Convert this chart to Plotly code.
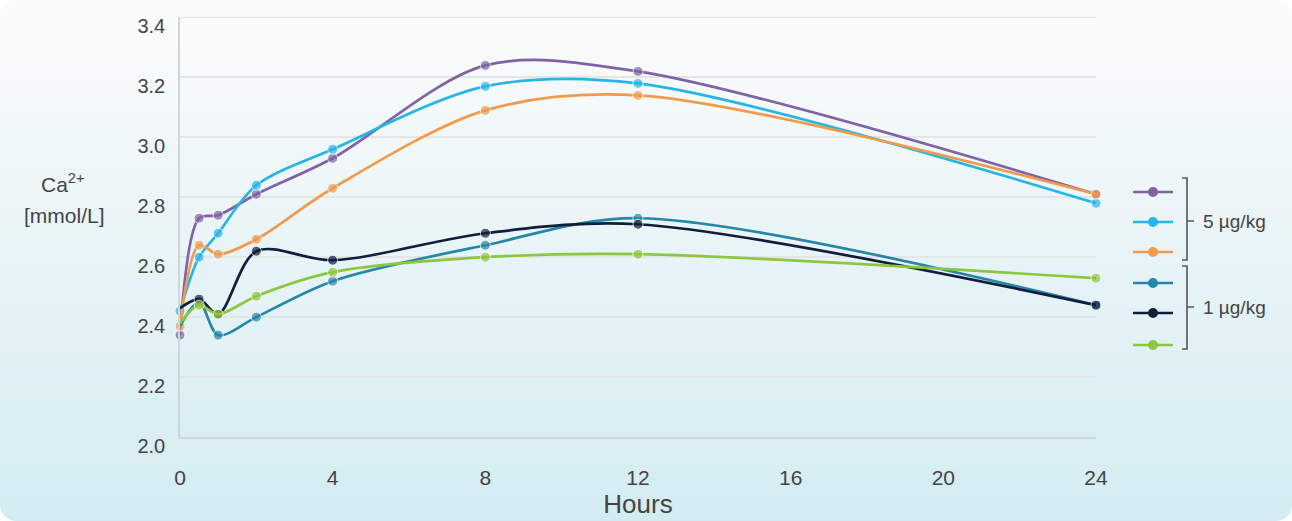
import plotly.graph_objects as go

# ---------------- data ----------------
hours = [0, 0.5, 1, 2, 4, 8, 12, 24]
series_names = ["5 µg/kg (a)", "5 µg/kg (b)", "5 µg/kg (c)", "1 µg/kg (a)", "1 µg/kg (b)", "1 µg/kg (c)"]
purple = [2.34, 2.73, 2.74, 2.81, 2.93, 3.24, 3.22, 2.81]
cyan   = [2.42, 2.60, 2.68, 2.84, 2.96, 3.17, 3.18, 2.78]
orange = [2.37, 2.64, 2.61, 2.66, 2.83, 3.09, 3.14, 2.81]
teal   = [2.37, 2.45, 2.34, 2.40, 2.52, 2.64, 2.73, 2.44]
navy   = [2.43, 2.46, 2.41, 2.62, 2.59, 2.68, 2.71, 2.44]
green  = [2.38, 2.44, 2.41, 2.47, 2.55, 2.60, 2.61, 2.53]
series_values = [purple, cyan, orange, teal, navy, green]
colors = ["#8063a6", "#27b5e8", "#f29a4c", "#2487a8", "#101e3c", "#8dc63f"]
first_marker_shown = [True, True, True, False, False, False]
x_ticks = [0, 4, 8, 12, 16, 20, 24]
y_ticks = [2.0, 2.2, 2.4, 2.6, 2.8, 3.0, 3.2, 3.4]
group_labels = ["5 µg/kg", "1 µg/kg"]

W, H = 1292, 521
L, R, T, B = 180, 196, 17, 84
PW, PH = W - L - R, H - T - B
GRID = "#e2e6e7"


def px(x):
    return (x - L) / PW


def py(y):
    return (H - B - y) / PH


fig = go.Figure()
for name, vals, col, shown in zip(series_names, series_values, colors, first_marker_shown):
    sizes = [10] * len(vals)
    if not shown:
        sizes[0] = 0
    fig.add_trace(go.Scatter(
        x=hours, y=vals, mode="lines+markers", name=name,
        line=dict(color=col, width=2.7, shape="spline", smoothing=0.9),
        marker=dict(color=col, size=sizes),
        cliponaxis=False, showlegend=False,
    ))

shapes = []
# background gradient bands (top light, bottom light cyan)
top_c = (250, 251, 251)
bot_c = (211, 236, 242)
N = 80
for i in range(N):
    y0 = i * H / N
    y1 = (i + 1) * H / N + 1
    t = (i + 0.5) / N
    t2 = min(1.0, max(0.0, (t - 0.05) / 0.95))
    c = tuple(round(top_c[k] + (bot_c[k] - top_c[k]) * t2) for k in range(3))
    shapes.append(dict(type="rect", xref="paper", yref="paper", layer="below",
                       x0=px(0), x1=px(W), y0=py(y1), y1=py(y0),
                       line=dict(width=0), fillcolor="rgb(%d,%d,%d)" % c))

# rounded corner masks
r = 16
k = 0.552 * r
corner_paths = [
    (px(W), py(H), f"M 0,0 L {-r},0 C {-r + k},0 0,{r - k} 0,{r} Z"),
    (px(0), py(H), f"M 0,0 L {r},0 C {r - k},0 0,{r - k} 0,{r} Z"),
    (px(W), py(0), f"M 0,0 L {-r},0 C {-r + k},0 0,{-r + k} 0,{-r} Z"),
    (px(0), py(0), f"M 0,0 L {r},0 C {r - k},0 0,{-r + k} 0,{-r} Z"),
]
for xa, ya, path in corner_paths:
    shapes.append(dict(type="path", xref="paper", yref="paper", layer="below",
                       xsizemode="pixel", ysizemode="pixel", xanchor=xa, yanchor=ya,
                       path=path, fillcolor="white", line=dict(width=0)))

# top gridline (plotly drops the grid line at the very edge of the plot)
shapes.append(dict(type="line", xref="paper", yref="y", layer="below",
                   x0=0, x1=1, y0=y_ticks[-1], y1=y_ticks[-1],
                   line=dict(color=GRID, width=1.5)))

# custom legend
leg_y = [192, 222, 252, 283, 313, 345]
for yy, col in zip(leg_y, colors):
    shapes.append(dict(type="line", xref="paper", yref="paper",
                       x0=px(1133), x1=px(1173), y0=py(yy), y1=py(yy),
                       line=dict(color=col, width=2.7)))
    shapes.append(dict(type="circle", xref="paper", yref="paper",
                       xsizemode="pixel", ysizemode="pixel",
                       xanchor=px(1153), yanchor=py(yy),
                       x0=-5, x1=5, y0=-5, y1=5,
                       fillcolor=col, line=dict(width=0)))

brackets = [(178, 260, 221), (266, 349, 307)]
bracket_col = "#555555"
for (b0, b1, bm) in brackets:
    path = (f"M {px(1182)},{py(b0)} L {px(1187)},{py(b0)} L {px(1187)},{py(b1)} "
            f"L {px(1182)},{py(b1)} M {px(1187)},{py(bm)} L {px(1194)},{py(bm)}")
    shapes.append(dict(type="path", xref="paper", yref="paper", path=path,
                       line=dict(color=bracket_col, width=1.6)))

annotations = []
for (b0, b1, bm), lab in zip(brackets, group_labels):
    annotations.append(dict(x=px(1201), y=py(bm), xref="paper", yref="paper",
                            text=lab, showarrow=False, xanchor="left", yanchor="middle",
                            font=dict(size=19, color="#444444")))
annotations.append(dict(x=px(63), y=py(183), xref="paper", yref="paper",
                        text="Ca<sup>2+</sup>", showarrow=False, xanchor="center",
                        yanchor="middle", font=dict(size=21, color="#444444")))
annotations.append(dict(x=px(64), y=py(215), xref="paper", yref="paper",
                        text="[mmol/L]", showarrow=False, xanchor="center",
                        yanchor="middle", font=dict(size=21, color="#444444")))

fig.update_layout(
    width=W, height=H, autosize=False,
    margin=dict(l=L, r=R, t=T, b=B, pad=0, autoexpand=False),
    paper_bgcolor="white", plot_bgcolor="rgba(0,0,0,0)",
    font=dict(family="Liberation Sans, Arial, sans-serif", color="#444444"),
    shapes=shapes, annotations=annotations,
    xaxis=dict(range=[0, 24], tickvals=x_ticks, ticktext=[str(v) for v in x_ticks],
               automargin=False,
               showgrid=False, zeroline=False, showline=True, linecolor="#cfd6d8",
               linewidth=1.5, ticks="outside", ticklen=21, tickcolor="rgba(0,0,0,0)",
               tickfont=dict(size=21, color="#444444"),
               title=dict(text="Hours", font=dict(size=26, color="#444444"), standoff=0)),
    yaxis=dict(range=[2.0, 3.4015], tickvals=y_ticks, ticktext=["%.1f" % v for v in y_ticks],
               automargin=False,
               showgrid=True, gridcolor=GRID, gridwidth=1.5, zeroline=False,
               showline=True, linecolor="#cfd6d8", linewidth=1.5,
               ticks="outside", ticklen=9, tickcolor="rgba(0,0,0,0)",
               ticklabelshift=9,
               tickfont=dict(size=20, color="#444444")),
)

fig.write_html(
    "out.html",
    config={"displayModeBar": False},
    post_script="document.documentElement.style.margin='0';document.documentElement.style.padding='0';"
                "document.body.style.margin='0';document.body.style.padding='0';"
                "document.body.style.overflow='hidden';",
)
